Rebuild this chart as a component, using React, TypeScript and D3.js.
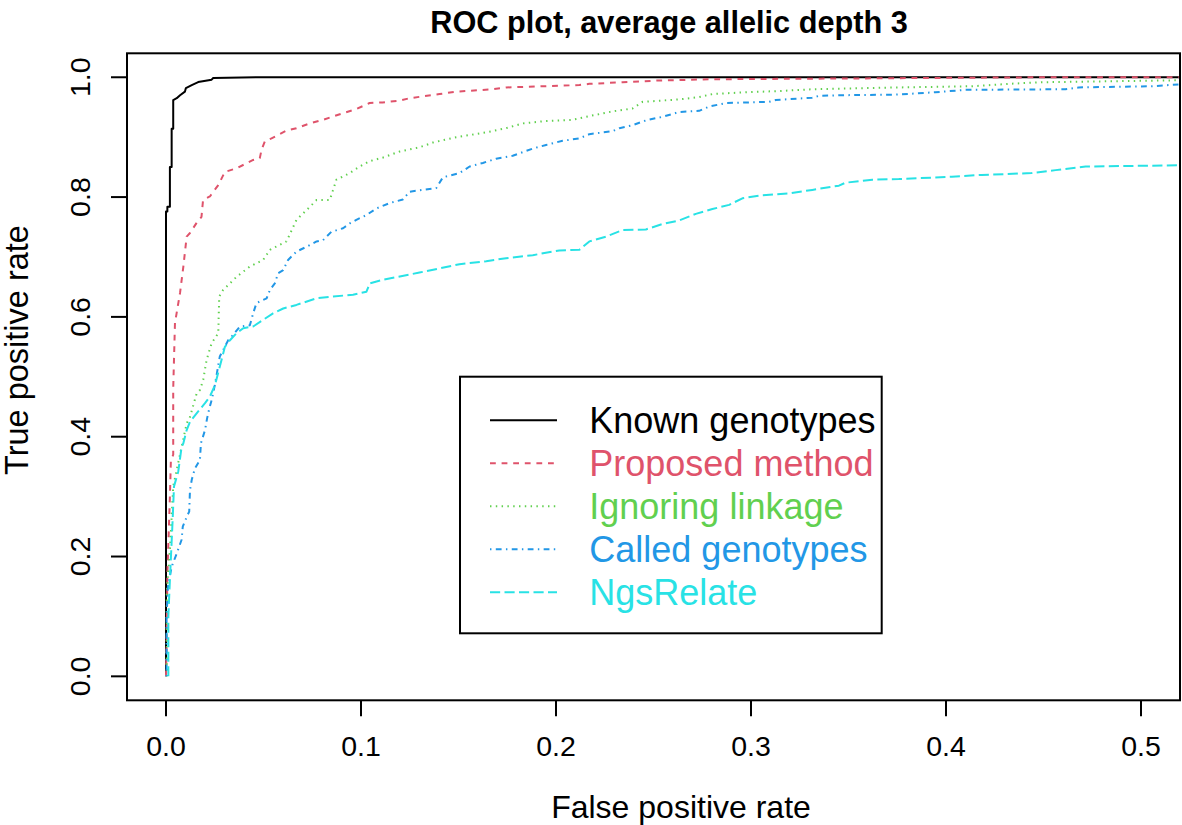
import React from "react";
import * as d3 from "d3";

type Pt = [number, number];

const chartTitle = "ROC plot, average allelic depth 3";
const xLabel = "False positive rate";
const yLabel = "True positive rate";
const xTicks = [0, 0.1, 0.2, 0.3, 0.4, 0.5];
const yTicks = [0, 0.2, 0.4, 0.6, 0.8, 1.0];

const knownGenotypes: Pt[] = [
  [0, 0], [0, 0.776], [0.0007, 0.776], [0.0007, 0.784], [0.002, 0.784], [0.002, 0.85],
  [0.0029, 0.85], [0.0029, 0.914], [0.0037, 0.914], [0.0037, 0.962], [0.0055, 0.965],
  [0.0072, 0.97], [0.0097, 0.976], [0.0102, 0.982], [0.0132, 0.987], [0.0165, 0.992],
  [0.0234, 0.996], [0.0242, 0.9987], [0.0464, 1.0], [0.53, 1.0],
];

const proposedMethod: Pt[] = [
  [0, 0], [0.0003, 0.05], [0.0007, 0.17], [0.002, 0.3], [0.0025, 0.36], [0.0037, 0.37],
  [0.0037, 0.48], [0.0046, 0.59], [0.0072, 0.64], [0.0089, 0.684], [0.0106, 0.734],
  [0.0123, 0.74], [0.0157, 0.757], [0.0182, 0.767], [0.019, 0.795], [0.0225, 0.801],
  [0.0268, 0.82], [0.0302, 0.842], [0.0362, 0.848], [0.0447, 0.862], [0.0481, 0.865],
  [0.049, 0.879], [0.0507, 0.893], [0.0541, 0.898], [0.0618, 0.911], [0.0669, 0.915],
  [0.0737, 0.923], [0.0805, 0.929], [0.0908, 0.94], [0.0976, 0.947], [0.1044, 0.957],
  [0.1111, 0.958], [0.1198, 0.961], [0.1249, 0.965], [0.1403, 0.972], [0.1488, 0.976],
  [0.1676, 0.98], [0.1744, 0.983], [0.212, 0.987], [0.2171, 0.989], [0.2342, 0.9917],
  [0.2513, 0.9944], [0.28, 0.9967], [0.352, 0.998], [0.4, 0.999], [0.45, 1.0], [0.53, 1.0],
];

const ignoringLinkage: Pt[] = [
  [0.0004, 0], [0.0004, 0.14], [0.002, 0.211], [0.0037, 0.317], [0.008, 0.383],
  [0.0106, 0.422], [0.0123, 0.433], [0.0157, 0.472], [0.0174, 0.478], [0.0191, 0.495],
  [0.0208, 0.528], [0.0234, 0.556], [0.0268, 0.573], [0.0273, 0.634], [0.0293, 0.645],
  [0.0328, 0.656], [0.0362, 0.667], [0.043, 0.684], [0.0498, 0.695], [0.0533, 0.712],
  [0.0618, 0.726], [0.0669, 0.762], [0.072, 0.778], [0.0772, 0.795], [0.084, 0.795],
  [0.0874, 0.829], [0.0942, 0.84], [0.0993, 0.851], [0.1045, 0.86], [0.1113, 0.866],
  [0.1198, 0.876], [0.13, 0.883], [0.1369, 0.891], [0.1488, 0.9], [0.1642, 0.908],
  [0.1744, 0.915], [0.183, 0.923], [0.1949, 0.927], [0.2085, 0.929], [0.2154, 0.934],
  [0.229, 0.943], [0.2393, 0.948], [0.2444, 0.959], [0.2632, 0.963], [0.2734, 0.967],
  [0.2802, 0.972], [0.2973, 0.975], [0.3144, 0.977], [0.3314, 0.98], [0.3758, 0.983],
  [0.4132, 0.985], [0.4322, 0.989], [0.449, 0.9917], [0.4782, 0.993], [0.5192, 0.995],
];

const calledGenotypes: Pt[] = [
  [0.0003, 0], [0.0003, 0.1], [0.001, 0.15], [0.0029, 0.183], [0.0055, 0.205],
  [0.008, 0.228], [0.0086, 0.25], [0.0106, 0.266], [0.0119, 0.275], [0.0123, 0.311],
  [0.0132, 0.328], [0.0148, 0.347], [0.0174, 0.361], [0.0179, 0.389], [0.02, 0.411],
  [0.0211, 0.431], [0.0222, 0.447], [0.0234, 0.461], [0.0251, 0.487], [0.0276, 0.534],
  [0.0319, 0.561], [0.0336, 0.567], [0.0379, 0.584], [0.043, 0.586], [0.0447, 0.606],
  [0.0464, 0.623], [0.0516, 0.631], [0.0533, 0.645], [0.0558, 0.656], [0.0575, 0.673],
  [0.0601, 0.678], [0.0626, 0.695], [0.0669, 0.709], [0.072, 0.717], [0.0772, 0.726],
  [0.0805, 0.728], [0.0848, 0.742], [0.0908, 0.748], [0.0942, 0.756], [0.0976, 0.762],
  [0.1028, 0.77], [0.1079, 0.781], [0.1147, 0.79], [0.1215, 0.796], [0.1249, 0.809],
  [0.1386, 0.815], [0.142, 0.833], [0.1505, 0.84], [0.1557, 0.851], [0.1625, 0.857],
  [0.1693, 0.864], [0.1778, 0.869], [0.1881, 0.881], [0.1949, 0.887], [0.2034, 0.894],
  [0.212, 0.898], [0.2171, 0.905], [0.229, 0.91], [0.2325, 0.915], [0.2393, 0.92],
  [0.2461, 0.928], [0.2546, 0.934], [0.2632, 0.942], [0.2734, 0.944], [0.2785, 0.951],
  [0.2871, 0.957], [0.3093, 0.959], [0.3127, 0.962], [0.3314, 0.966], [0.3349, 0.969],
  [0.3451, 0.97], [0.3741, 0.971], [0.3946, 0.975], [0.41, 0.979], [0.4612, 0.98],
  [0.468, 0.983], [0.5054, 0.985], [0.5192, 0.988],
];

const ngsRelate: Pt[] = [
  [0.0012, 0], [0.0012, 0.1], [0.002, 0.161], [0.0034, 0.261], [0.0041, 0.317],
  [0.0063, 0.342], [0.008, 0.383], [0.0089, 0.389], [0.0106, 0.411], [0.0123, 0.425],
  [0.0157, 0.439], [0.02, 0.456], [0.0225, 0.467], [0.0251, 0.486], [0.0276, 0.517],
  [0.0302, 0.55], [0.0328, 0.561], [0.0362, 0.573], [0.0396, 0.581], [0.0447, 0.584],
  [0.0498, 0.595], [0.0549, 0.606], [0.0601, 0.614], [0.0669, 0.62], [0.0772, 0.631],
  [0.0857, 0.634], [0.0959, 0.637], [0.1028, 0.642], [0.1045, 0.656], [0.1113, 0.662],
  [0.13, 0.674], [0.1403, 0.681], [0.1505, 0.688], [0.1642, 0.693], [0.1744, 0.698],
  [0.1881, 0.703], [0.2017, 0.711], [0.212, 0.712], [0.2171, 0.726], [0.2257, 0.734],
  [0.2342, 0.745], [0.2461, 0.746], [0.2546, 0.755], [0.2632, 0.761], [0.2717, 0.772],
  [0.2802, 0.78], [0.2888, 0.787], [0.2956, 0.798], [0.3058, 0.803], [0.3195, 0.806],
  [0.3314, 0.812], [0.3451, 0.819], [0.3485, 0.824], [0.3622, 0.829], [0.3758, 0.83],
  [0.403, 0.834], [0.4183, 0.837], [0.4439, 0.84], [0.4562, 0.845], [0.4716, 0.851],
  [0.4951, 0.852], [0.5192, 0.853],
];

const seriesNames = ["Known genotypes", "Proposed method", "Ignoring linkage", "Called genotypes", "NgsRelate"];
const seriesData: Pt[][] = [knownGenotypes, proposedMethod, ignoringLinkage, calledGenotypes, ngsRelate];
const seriesColors = ["#000000", "#DF536B", "#61D04F", "#2297E6", "#28E2E5"];
// R lty: solid, dashed "44", dotted "13", dotdash "1343", longdash "73"
const ltyUnits: number[][] = [[], [4, 4], [1, 3], [1, 3, 4, 3], [7, 3]];

const W = 1182;
const H = 825;
const FONT = "'Liberation Sans', Arial, Helvetica, sans-serif";
const DASH_SCALE = 1.45;

export default function App() {
  const x = d3.scaleLinear().domain([-0.02, 0.52]).range([127, 1180]);
  const y = d3.scaleLinear().domain([-0.04, 1.04]).range([700.3, 53.3]);
  const [x0, x1] = x.range();
  const [y0, y1] = y.range();

  const line = d3
    .line<Pt>()
    .x((d) => x(d[0]))
    .y((d) => y(d[1]));

  const dash = (i: number) =>
    ltyUnits[i].length ? ltyUnits[i].map((u) => u * DASH_SCALE).join(" ") : undefined;

  const legendX0 = 460;
  const legendY0 = 376.7;
  const legendW = 421.7;
  const legendH = 256.6;
  const legendBase0 = 433.3;
  const legendStep = 43;

  return (
    <svg
      width={W}
      height={H}
      style={{ position: "absolute", left: 0, top: 0, background: "#fff" }}
      fontFamily={FONT}
    >
      <defs>
        <clipPath id="plotClip">
          <rect x={x0} y={y1} width={x1 - x0} height={y0 - y1} />
        </clipPath>
      </defs>

      <text x={669} y={33.3} fontSize={30.7} fontWeight="bold" textAnchor="middle" fill="#000">
        {chartTitle}
      </text>

      <g clipPath="url(#plotClip)">
        {seriesData.map((d, i) => (
          <path
            key={seriesNames[i]}
            d={line(d) || ""}
            fill="none"
            stroke={seriesColors[i]}
            strokeWidth={2}
            strokeDasharray={dash(i)}
            strokeLinejoin="round"
          />
        ))}
      </g>

      <rect x={x0} y={y1} width={x1 - x0} height={y0 - y1} fill="none" stroke="#000" strokeWidth={2} />

      {xTicks.map((t) => (
        <g key={"xt" + t}>
          <line x1={x(t)} x2={x(t)} y1={y0} y2={y0 + 16} stroke="#000" strokeWidth={2} />
          <text x={x(t)} y={756} fontSize={28.5} textAnchor="middle" fill="#000">
            {t.toFixed(1)}
          </text>
        </g>
      ))}

      {yTicks.map((t) => (
        <g key={"yt" + t}>
          <line x1={x0} x2={x0 - 16} y1={y(t)} y2={y(t)} stroke="#000" strokeWidth={2} />
          <text
            transform={`translate(90,${y(t)}) rotate(-90)`}
            fontSize={28.5}
            textAnchor="middle"
            fill="#000"
          >
            {t.toFixed(1)}
          </text>
        </g>
      ))}

      <text x={681} y={818} fontSize={32} textAnchor="middle" fill="#000">
        {xLabel}
      </text>
      <text transform={`translate(28.3,350) rotate(-90)`} fontSize={32.5} textAnchor="middle" fill="#000">
        {yLabel}
      </text>

      <rect x={legendX0} y={legendY0} width={legendW} height={legendH} fill="#fff" stroke="#000" strokeWidth={2} />
      {seriesNames.map((name, i) => {
        const base = legendBase0 + i * legendStep;
        return (
          <g key={"lg" + name}>
            <line
              x1={490}
              x2={557}
              y1={base - 13}
              y2={base - 13}
              stroke={seriesColors[i]}
              strokeWidth={2}
              strokeDasharray={dash(i)}
            />
            <text x={589.3} y={base} fontSize={36} fill={seriesColors[i]}>
              {name}
            </text>
          </g>
        );
      })}
    </svg>
  );
}
